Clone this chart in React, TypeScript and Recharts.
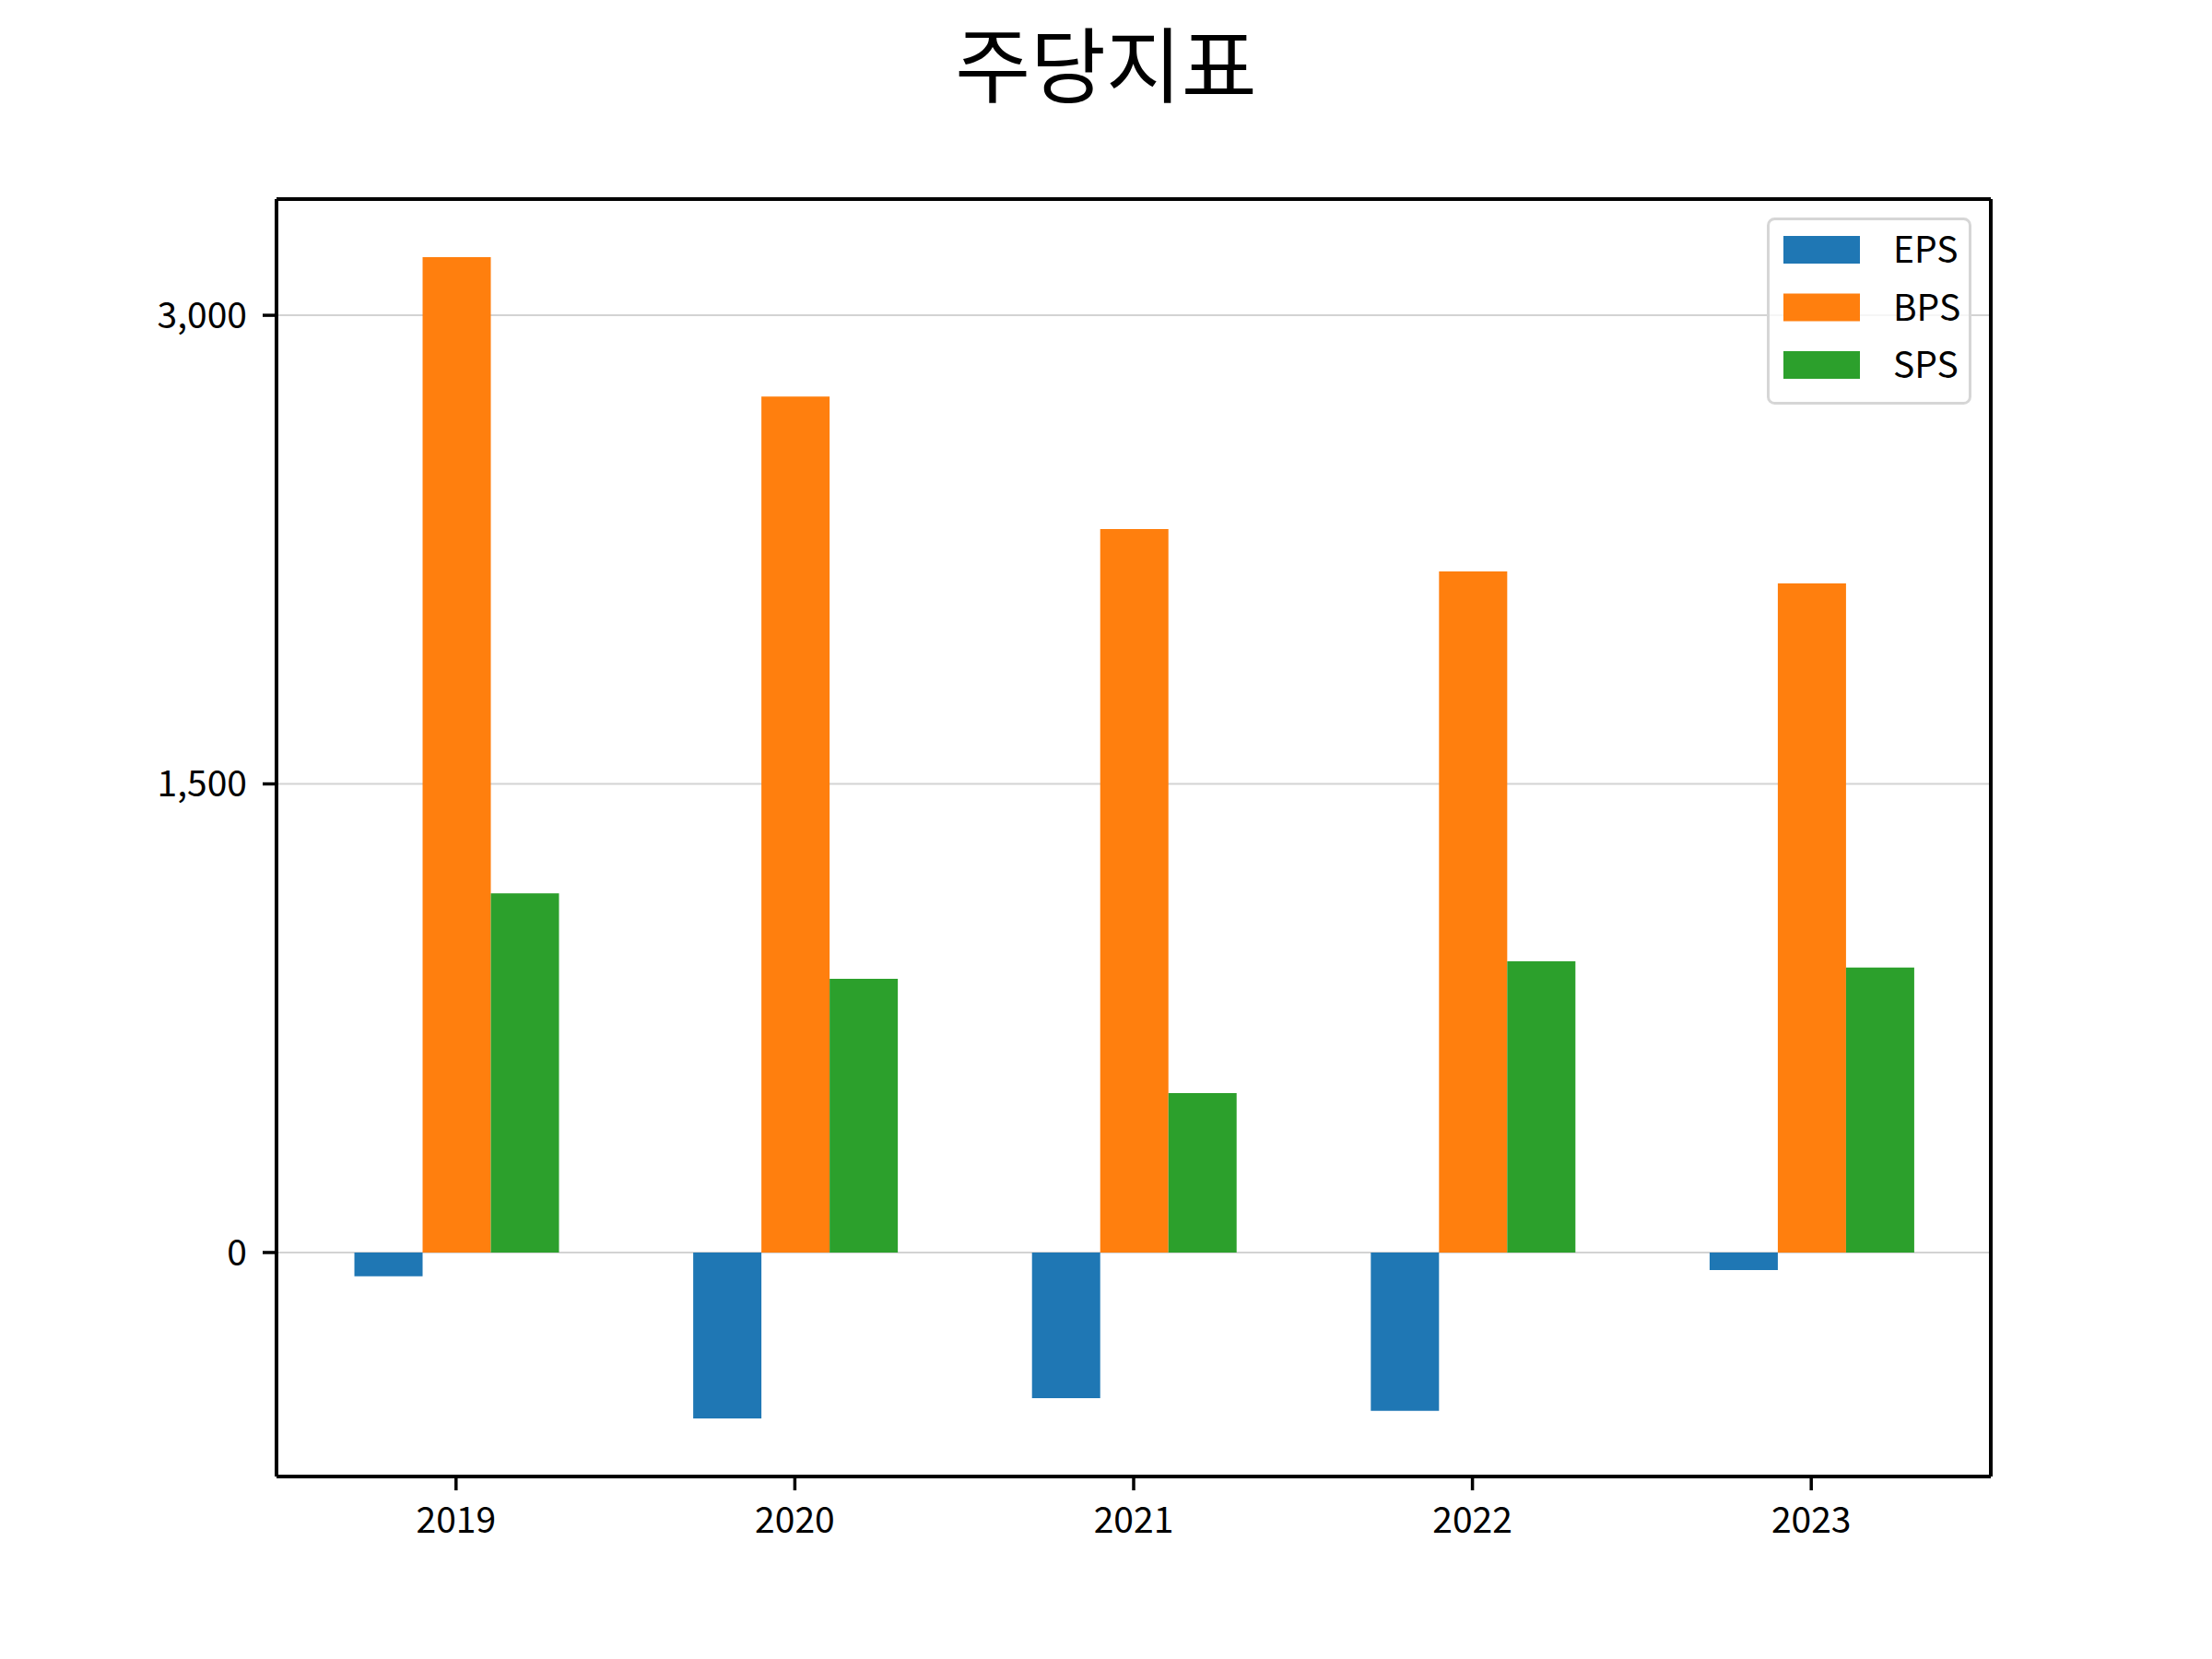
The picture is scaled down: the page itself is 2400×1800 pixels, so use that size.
import React from 'react';
import { BarChart, Bar, XAxis, YAxis, CartesianGrid, Legend } from 'recharts';

const years = ['2019', '2020', '2021', '2022', '2023'];
const epsValues = [-76, -531, -466, -507, -56];
const bpsValues = [3186, 2740, 2316, 2180, 2142];
const spsValues = [1150, 876, 510, 932, 912];
const yTicks = [0, 1500, 3000];
const yDomain = [-717, 3372];
const seriesNames = ['EPS', 'BPS', 'SPS'];
const seriesColors = ['#1f77b4', '#ff7f0e', '#2ca02c'];
const chartTitle = '주당지표';

const data = years.map((year, i) => ({
  year,
  EPS: epsValues[i],
  BPS: bpsValues[i],
  SPS: spsValues[i],
}));

const FONT = '"Noto Sans CJK KR", "Noto Sans", sans-serif';
const TICK_FONT = 39;

const LegendBox = () => {
  return (
    <svg width={222} height={203} style={{ display: 'block' }}>
      <rect x={1.5} y={1.5} width={219} height={200} rx={7} ry={7} fill="#fff" fillOpacity={0.8} stroke="#d6d6d6" strokeWidth={3} />
      {seriesNames.map((name, i) => {
        const cy = 35 + i * 62.5;
        return (
          <g key={name}>
            <rect x={18} y={cy - 15} width={83} height={30} fill={seriesColors[i]} />
            <text x={137} y={cy + 14} fontSize={TICK_FONT} fontFamily={FONT} fill="#000">{name}</text>
          </g>
        );
      })}
    </svg>
  );
};

const fmt = (v: number) => v.toLocaleString('en-US');

export default function App() {
  return (
    <div style={{ position: 'absolute', left: 0, top: 0, width: 2400, height: 1800, background: '#fff' }}>
      <BarChart
        width={2400}
        height={1800}
        data={data}
        margin={{ top: 215, right: 239, bottom: 138, left: 180 }}
        barCategoryGap="20%"
        barGap={0}
      >
        <CartesianGrid vertical={false} horizontal={true} yAxisId={0} xAxisId={0} stroke="#d3d3d3" strokeWidth={2} />
        <XAxis
          dataKey="year"
          padding={{ left: 11, right: 11 }}
          height={60}
          stroke="#000"
          axisLine={{ stroke: '#000', strokeWidth: 4 }}
          tickLine={{ stroke: '#000', strokeWidth: 3.5 }}
          tickSize={15}
          tickMargin={18}
          interval={0}
          tick={{ fill: '#000', fontSize: TICK_FONT, fontFamily: FONT }}
        />
        <XAxis
          xAxisId="top"
          orientation="top"
          dataKey="year"
          height={1}
          tick={false}
          tickLine={false}
          stroke="#000"
          axisLine={{ stroke: '#000', strokeWidth: 4 }}
        />
        <YAxis
          type="number"
          domain={yDomain}
          ticks={yTicks}
          allowDataOverflow
          width={120}
          stroke="#000"
          axisLine={{ stroke: '#000', strokeWidth: 4 }}
          tickLine={{ stroke: '#000', strokeWidth: 3.5 }}
          tickSize={15}
          tickMargin={17}
          tickFormatter={fmt}
          tick={{ fill: '#000', fontSize: TICK_FONT, fontFamily: FONT }}
        />
        <YAxis
          yAxisId="right"
          orientation="right"
          type="number"
          domain={yDomain}
          ticks={yTicks}
          allowDataOverflow
          width={1}
          tick={false}
          tickLine={false}
          stroke="#000"
          axisLine={{ stroke: '#000', strokeWidth: 4 }}
        />
        {seriesNames.map((name, i) => (
          <Bar key={name} dataKey={name} name={name} fill={seriesColors[i]} isAnimationActive={false} />
        ))}
        <Legend
          layout="vertical"
          align="center"
          verticalAlign="middle"
          content={<LegendBox />}
          wrapperStyle={{ left: 1917, top: 236, width: 222, height: 203 }}
        />
      </BarChart>
      <svg width={2400} height={1800} style={{ position: 'absolute', left: 0, top: 0, pointerEvents: 'none' }}>
        <text x={1200} y={104} textAnchor="middle" fontSize={89} fontFamily={FONT} fill="#000">{chartTitle}</text>
      </svg>
    </div>
  );
}
